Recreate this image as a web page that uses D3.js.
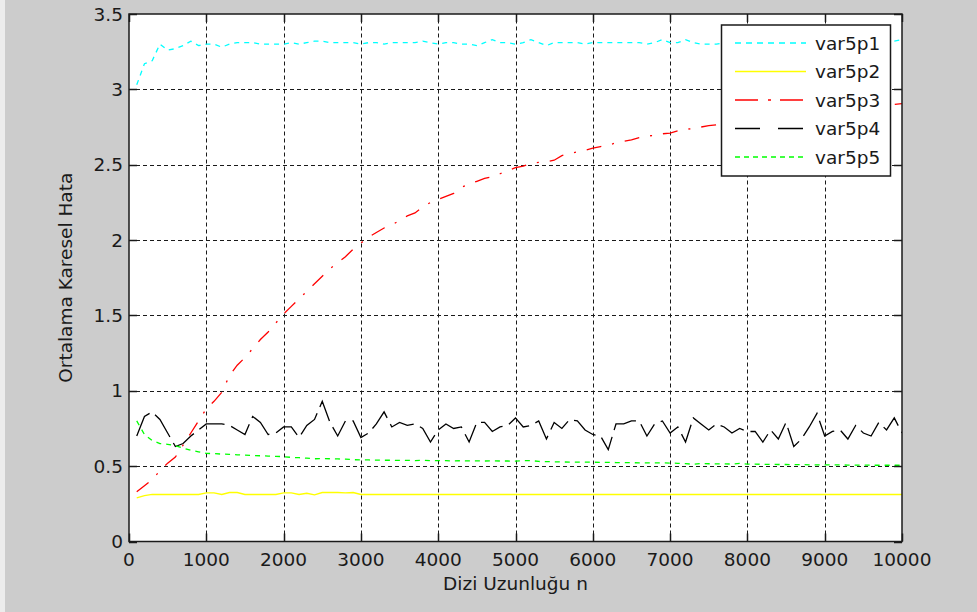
<!DOCTYPE html>
<html>
<head>
<meta charset="utf-8">
<script src="https://cdn.jsdelivr.net/npm/d3@7"></script>
<style>
    html, body { margin: 0; padding: 0; background: #cccccc; }
    svg { display: block; }
    text { font-family: "DejaVu Sans", Arial, sans-serif; fill: #1a1a1a; }
</style>
</head>
<body>
<div id="chart"></div>
<script>
// Sample sizes (x axis)
const sampleSizes = d3.range(100, 10001, 100);

// Mean squared error per series, one value per sample size
const var5p1 = [
    3.03, 3.17, 3.19, 3.30, 3.26, 3.27, 3.29, 3.32, 3.29, 3.30,
    3.30, 3.28, 3.30, 3.31, 3.31, 3.31, 3.30, 3.30, 3.30, 3.30,
    3.31, 3.30, 3.31, 3.32, 3.32, 3.31, 3.31, 3.31, 3.31, 3.30,
    3.31, 3.31, 3.30, 3.31, 3.31, 3.31, 3.31, 3.32, 3.31, 3.30,
    3.31, 3.31, 3.30, 3.30, 3.29, 3.31, 3.33, 3.31, 3.31, 3.30,
    3.31, 3.33, 3.31, 3.29, 3.31, 3.31, 3.31, 3.31, 3.30, 3.31,
    3.31, 3.31, 3.31, 3.31, 3.31, 3.31, 3.30, 3.31, 3.33, 3.31,
    3.31, 3.33, 3.31, 3.30, 3.30, 3.30, 3.31, 3.31, 3.31, 3.31,
    3.31, 3.31, 3.31, 3.31, 3.31, 3.31, 3.31, 3.31, 3.31, 3.31,
    3.31, 3.31, 3.31, 3.31, 3.31, 3.31, 3.31, 3.31, 3.32, 3.33
];

const var5p2 = [
    0.290, 0.305, 0.312, 0.312, 0.312, 0.312, 0.312, 0.312, 0.312, 0.322,
    0.322, 0.312, 0.325, 0.325, 0.312, 0.312, 0.312, 0.312, 0.312, 0.322,
    0.322, 0.312, 0.320, 0.310, 0.325, 0.325, 0.325, 0.322, 0.325, 0.312,
    0.312, 0.312, 0.312, 0.312, 0.312, 0.312, 0.312, 0.312, 0.312, 0.312,
    0.312, 0.312, 0.312, 0.312, 0.312, 0.312, 0.312, 0.312, 0.312, 0.312,
    0.312, 0.312, 0.312, 0.312, 0.312, 0.312, 0.312, 0.312, 0.312, 0.312,
    0.312, 0.312, 0.312, 0.312, 0.312, 0.312, 0.312, 0.312, 0.312, 0.312,
    0.312, 0.312, 0.312, 0.312, 0.312, 0.312, 0.312, 0.312, 0.312, 0.312,
    0.312, 0.312, 0.312, 0.312, 0.312, 0.312, 0.312, 0.312, 0.312, 0.312,
    0.312, 0.312, 0.312, 0.312, 0.312, 0.312, 0.312, 0.312, 0.312, 0.312
];

const var5p3 = [
    0.33, 0.37, 0.41, 0.47, 0.52, 0.56, 0.64, 0.72, 0.80, 0.88,
    0.93, 0.99, 1.10, 1.17, 1.22, 1.28, 1.34, 1.39, 1.45, 1.51,
    1.56, 1.61, 1.66, 1.71, 1.76, 1.81, 1.85, 1.89, 1.94, 1.98,
    2.02, 2.05, 2.08, 2.10, 2.13, 2.16, 2.18, 2.22, 2.25, 2.27,
    2.29, 2.31, 2.35, 2.37, 2.39, 2.41, 2.42, 2.44, 2.46, 2.48,
    2.49, 2.51, 2.515, 2.52, 2.53, 2.56, 2.575, 2.585, 2.595, 2.61,
    2.62, 2.63, 2.645, 2.655, 2.665, 2.68, 2.69, 2.695, 2.705, 2.71,
    2.725, 2.735, 2.74, 2.75, 2.76, 2.765, 2.775, 2.785, 2.79, 2.80,
    2.805, 2.81, 2.815, 2.82, 2.83, 2.835, 2.84, 2.845, 2.85, 2.855,
    2.86, 2.865, 2.87, 2.875, 2.88, 2.885, 2.89, 2.895, 2.90, 2.905
];

const var5p4 = [
    0.70, 0.83, 0.86, 0.81, 0.72, 0.63, 0.65, 0.70, 0.74, 0.78,
    0.78, 0.78, 0.77, 0.74, 0.71, 0.83, 0.79, 0.71, 0.72, 0.76,
    0.76, 0.69, 0.77, 0.81, 0.93, 0.79, 0.70, 0.80, 0.80, 0.69,
    0.72, 0.78, 0.86, 0.76, 0.79, 0.77, 0.78, 0.75, 0.66, 0.74,
    0.78, 0.75, 0.76, 0.66, 0.79, 0.79, 0.73, 0.76, 0.77, 0.82,
    0.76, 0.77, 0.80, 0.68, 0.79, 0.75, 0.81, 0.80, 0.74, 0.71,
    0.70, 0.61, 0.78, 0.78, 0.80, 0.80, 0.70, 0.78, 0.80, 0.72,
    0.76, 0.66, 0.82, 0.78, 0.74, 0.78, 0.76, 0.72, 0.75, 0.73,
    0.73, 0.66, 0.74, 0.68, 0.79, 0.63, 0.68, 0.76, 0.85, 0.70,
    0.73, 0.74, 0.68, 0.77, 0.72, 0.70, 0.79, 0.74, 0.82, 0.72
];

const var5p5 = [
    0.800, 0.710, 0.670, 0.650, 0.645, 0.635, 0.620, 0.605, 0.595, 0.585,
    0.583, 0.580, 0.578, 0.575, 0.573, 0.571, 0.569, 0.567, 0.565, 0.563,
    0.558, 0.556, 0.553, 0.549, 0.551, 0.549, 0.548, 0.546, 0.543, 0.541,
    0.541, 0.540, 0.539, 0.539, 0.538, 0.538, 0.537, 0.538, 0.537, 0.536,
    0.536, 0.535, 0.536, 0.535, 0.535, 0.534, 0.535, 0.534, 0.534, 0.533,
    0.536, 0.537, 0.531, 0.530, 0.529, 0.528, 0.527, 0.527, 0.526, 0.526,
    0.525, 0.525, 0.524, 0.523, 0.523, 0.522, 0.522, 0.521, 0.522, 0.520,
    0.519, 0.517, 0.512, 0.517, 0.516, 0.515, 0.515, 0.514, 0.518, 0.513,
    0.513, 0.512, 0.512, 0.511, 0.511, 0.510, 0.510, 0.509, 0.509, 0.508,
    0.508, 0.508, 0.507, 0.507, 0.507, 0.506, 0.506, 0.506, 0.506, 0.506
];

const seriesNames = ['var5p1', 'var5p2', 'var5p3', 'var5p4', 'var5p5'];
const seriesValues = [var5p1, var5p2, var5p3, var5p4, var5p5];

// Tick values
const xTicks = [0, 1000, 2000, 3000, 4000, 5000, 6000, 7000, 8000, 9000, 10000];
const yTicks = [0, 0.5, 1, 1.5, 2, 2.5, 3, 3.5];

const xLabel = 'Dizi Uzunluğu n';
const yLabel = 'Ortalama Karesel Hata';

// Line styles (MATLAB look)
const styles = {
    var5p1: { color: '#00ffff', dash: '5,5', legendDash: '6,5' },
    var5p2: { color: '#ffff00', dash: null, legendDash: null },
    var5p3: { color: '#ff0000', dash: '15,11,2,11', legendDash: '23,10,3,9' },
    var5p4: { color: '#000000', dash: '27,7', legendDash: '25,18' },
    var5p5: { color: '#00ff00', dash: '5,5', legendDash: '5,4' }
};

const W = 977, H = 612;
const box = { left: 129, right: 902, top: 14, bottom: 541.5 };
const fontSize = 18.5;
const tickLen = 8;

const svg = d3.select('#chart').append('svg')
    .attr('width', W)
    .attr('height', H);

// Figure background
svg.append('rect').attr('width', W).attr('height', H).attr('fill', '#cccccc');
svg.append('rect').attr('width', 5).attr('height', H).attr('fill', '#ececec');

const x = d3.scaleLinear().domain([0, 10000]).range([box.left, box.right]);
const y = d3.scaleLinear().domain([0, 3.5]).range([box.bottom, box.top]);

// Axes area
svg.append('rect')
    .attr('x', box.left)
    .attr('y', box.top)
    .attr('width', box.right - box.left)
    .attr('height', box.bottom - box.top)
    .attr('fill', '#ffffff');

// Grid lines (dotted, black)
const grid = svg.append('g')
    .attr('stroke', '#1a1a1a')
    .attr('stroke-width', 1)
    .attr('stroke-dasharray', '4,3');

grid.selectAll('.gx')
    .data(xTicks.slice(1, -1))
    .join('line')
    .attr('x1', d => Math.round(x(d)) + 0.5)
    .attr('x2', d => Math.round(x(d)) + 0.5)
    .attr('y1', box.bottom)
    .attr('y2', box.top);

grid.selectAll('.gy')
    .data(yTicks.slice(1, -1))
    .join('line')
    .attr('y1', d => Math.round(y(d)) + 0.5)
    .attr('y2', d => Math.round(y(d)) + 0.5)
    .attr('x1', box.left)
    .attr('x2', box.right);

// Data lines, clipped to axes
svg.append('clipPath').attr('id', 'plot-clip')
    .append('rect')
    .attr('x', box.left)
    .attr('y', box.top)
    .attr('width', box.right - box.left)
    .attr('height', box.bottom - box.top);

const line = d3.line()
    .x((d, i) => x(sampleSizes[i]))
    .y(d => y(d));

const plot = svg.append('g').attr('clip-path', 'url(#plot-clip)');

seriesNames.forEach((name, k) => {
    const st = styles[name];
    plot.append('path')
        .datum(seriesValues[k])
        .attr('fill', 'none')
        .attr('stroke', st.color)
        .attr('stroke-width', 1.3)
        .attr('stroke-dasharray', st.dash)
        .attr('d', line);
});

// Axes box and inward tick marks
const frame = svg.append('g').attr('stroke', '#1a1a1a').attr('stroke-width', 1.5).attr('fill', 'none');

frame.append('rect')
    .attr('x', box.left)
    .attr('y', box.top)
    .attr('width', box.right - box.left)
    .attr('height', box.bottom - box.top);

xTicks.forEach(t => {
    const px = Math.round(x(t)) + 0.5;
    frame.append('line').attr('x1', px).attr('x2', px).attr('y1', box.bottom).attr('y2', box.bottom - tickLen);
    frame.append('line').attr('x1', px).attr('x2', px).attr('y1', box.top).attr('y2', box.top + tickLen);
});

yTicks.forEach(t => {
    const py = Math.round(y(t)) + 0.5;
    frame.append('line').attr('y1', py).attr('y2', py).attr('x1', box.left).attr('x2', box.left + tickLen);
    frame.append('line').attr('y1', py).attr('y2', py).attr('x1', box.right).attr('x2', box.right - tickLen);
});

// Tick labels
svg.append('g').selectAll('text')
    .data(xTicks)
    .join('text')
    .attr('x', d => x(d))
    .attr('y', box.bottom + 24)
    .attr('text-anchor', 'middle')
    .attr('font-size', fontSize)
    .text(d => d);

svg.append('g').selectAll('text')
    .data(yTicks)
    .join('text')
    .attr('x', box.left - 6)
    .attr('y', d => y(d))
    .attr('dy', '0.36em')
    .attr('text-anchor', 'end')
    .attr('font-size', fontSize)
    .text(d => d);

// Axis labels
svg.append('text')
    .attr('x', (box.left + box.right) / 2)
    .attr('y', 590)
    .attr('text-anchor', 'middle')
    .attr('font-size', fontSize)
    .text(xLabel);

svg.append('text')
    .attr('transform', `translate(72, ${(box.top + box.bottom) / 2}) rotate(-90)`)
    .attr('text-anchor', 'middle')
    .attr('font-size', fontSize)
    .text(yLabel);

// Legend
const legend = svg.append('g');
const lg = { x: 721.5, y: 25, w: 169, h: 151 };

legend.append('rect')
    .attr('x', lg.x)
    .attr('y', lg.y)
    .attr('width', lg.w)
    .attr('height', lg.h)
    .attr('fill', '#ffffff')
    .attr('stroke', '#1a1a1a')
    .attr('stroke-width', 1.5);

seriesNames.forEach((name, k) => {
    const st = styles[name];
    const cy = 43 + k * 28.5;
    legend.append('line')
        .attr('x1', 735)
        .attr('x2', 806)
        .attr('y1', cy)
        .attr('y2', cy)
        .attr('stroke', st.color)
        .attr('stroke-width', 1.3)
        .attr('stroke-dasharray', st.legendDash);
    legend.append('text')
        .attr('x', 815)
        .attr('y', cy)
        .attr('dy', '0.36em')
        .attr('font-size', fontSize)
        .text(name);
});
</script>
</body>
</html>
